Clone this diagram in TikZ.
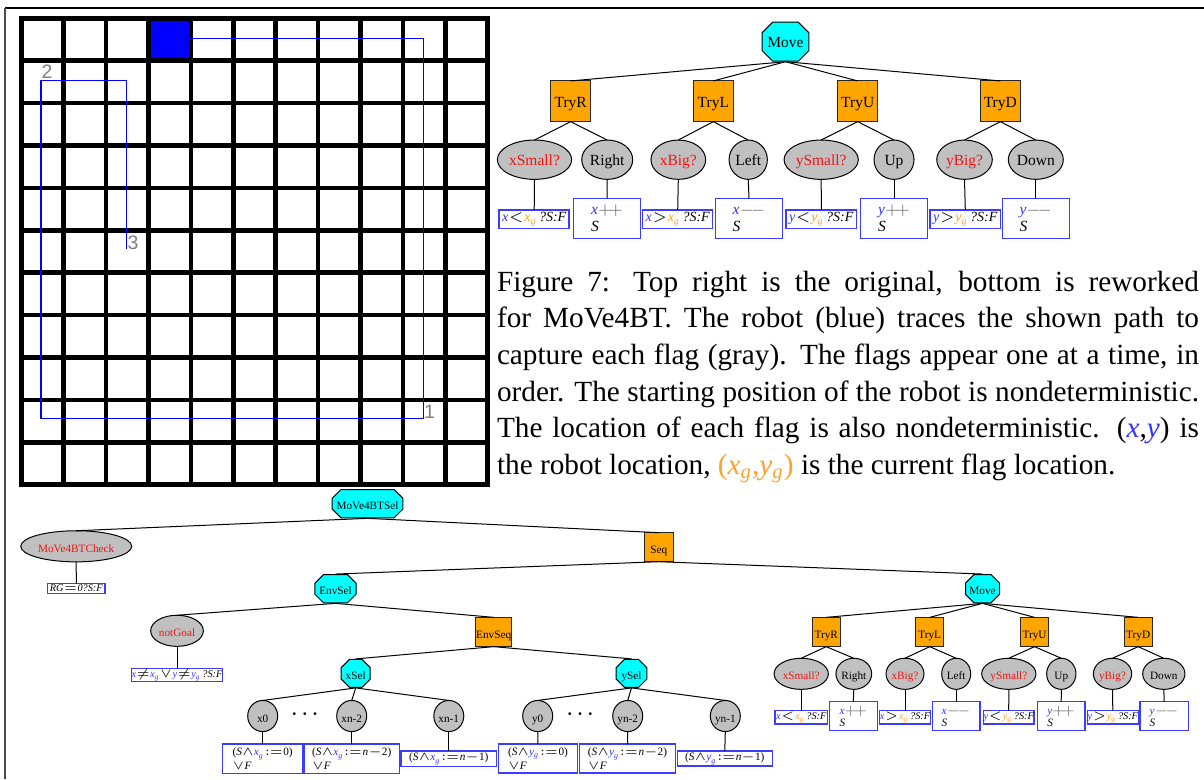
\documentclass[tikz,border=0pt]{standalone}
\usepackage{fontspec}
\setmainfont{Liberation Serif}
\newfontfamily\labelsans{Liberation Sans}
\usepackage{amsmath}
\usetikzlibrary{shapes.geometric}
\definecolor{octcyan}{RGB}{0,255,255}
\definecolor{seqorange}{RGB}{255,165,0}
\definecolor{ellgray}{RGB}{192,192,192}
\definecolor{vblue}{RGB}{50,50,255}
\definecolor{vorange}{RGB}{255,160,40}
\definecolor{boxblue}{RGB}{60,60,255}
\definecolor{opgray}{RGB}{110,110,110}
\definecolor{condred}{RGB}{240,20,20}
\definecolor{flaggray}{RGB}{128,128,128}
\newcommand\rX{\textcolor{vblue}{\textit{x}}}
\newcommand\rY{\textcolor{vblue}{\textit{y}}}
\newcommand\fX{\textcolor{vorange}{\textit{x}\textsubscript{\textit{g}}}}
\newcommand\fY{\textcolor{vorange}{\textit{y}\textsubscript{\textit{g}}}}
\newcommand\bX{\textcolor{vblue}{\textit{x}\textsubscript{\textit{g}}}}
\newcommand\bY{\textcolor{vblue}{\textit{y}\textsubscript{\textit{g}}}}
\newcommand\qSF{\textit{?S:F}}
\newcommand\incr{\textcolor{opgray}{$+\!+$}}
\newcommand\decr{\textcolor{opgray}{$-\!-$}}
\newcommand\rel[1]{\kern0.06em$#1$\kern0.06em}
\tikzset{
  every node/.style={inner sep=0pt, outer sep=0pt},
  tt/.style={font=\fontsize{6.2}{6.4}\selectfont, text height=0.68em, text depth=0.2em},
  bt/.style={font=\fontsize{4.5}{4.4}\selectfont, text height=0.68em, text depth=0.2em},
  ta/.style={font=\fontsize{6.2}{6.5}\selectfont},
  ba/.style={font=\fontsize{4.5}{4.6}\selectfont},
  tf/.style={font=\fontsize{5.6}{6.4}\selectfont},
  bf/.style={font=\fontsize{4.1}{4.4}\selectfont},
  sz/.style 2 args={minimum width=#1*0.4pt, minimum height=#2*0.4pt},
  octa/.style={rectangle, path picture={
    \draw[fill=octcyan, draw=black, line width=0.4pt]
      ([xshift=#1, yshift=-0.2pt]path picture bounding box.north west) --
      ([xshift=-#1, yshift=-0.2pt]path picture bounding box.north east) --
      ([xshift=-0.2pt, yshift=-#1]path picture bounding box.north east) --
      ([xshift=-0.2pt, yshift=#1]path picture bounding box.south east) --
      ([xshift=-#1, yshift=0.2pt]path picture bounding box.south east) --
      ([xshift=#1, yshift=0.2pt]path picture bounding box.south west) --
      ([xshift=0.2pt, yshift=#1]path picture bounding box.south west) --
      ([xshift=0.2pt, yshift=-#1]path picture bounding box.north west) -- cycle;}},
  seqbox/.style={rectangle, draw=black!85, fill=seqorange, line width=0.4pt},
  condnode/.style={ellipse, draw=black, fill=ellgray, text=condred, line width=0.4pt},
  actnode/.style={ellipse, draw=black, fill=ellgray, line width=0.4pt},
  fbox/.style={rectangle, draw=boxblue, fill=white, line width=0.6pt},
  abox/.style={fbox, align=left},
  link/.style={draw=black, line width=0.4pt},
  gridline/.style={line width=1.8pt, line cap=rect},
  flagnum/.style={anchor=base west, text=flaggray, font=\labelsans\fontsize{7.8}{8}\selectfont}
}
\begin{document}
\begin{tikzpicture}[x=0.4pt, y=-0.4pt]
\useasboundingbox (0,0) rectangle (1204,779);
% frame
\draw[line width=0.55pt] (5,8) -- (1204,8);
\draw[line width=0.75pt, black!70] (5,8) -- (5,779);
% grid
\fill[blue] (148.5,18.3) rectangle (190.9,60.7);
\foreach \i in {0,...,11} {
  \draw[gridline] ({21.3+42.4*\i},18.3) -- ({21.3+42.4*\i},484.7);
  \draw[gridline] (21.3,{18.3+42.4*\i}) -- (487.7,{18.3+42.4*\i});
}
\draw[blue, line width=0.6pt] (189.3,38.3) -- (423.3,38.3) -- (423.3,418.3) -- (41,418.3) -- (41,80.3) -- (126.7,80.3) -- (126.7,249.3);
\node[flagnum] (f1) at (424,418) {1};
\node[flagnum] (f2) at (41.5,79) {2};
\node[flagnum] (f3) at (127.5,249) {3};
% caption
\node[anchor=north west, text width=280.8pt, align=justify, font=\fontsize{11.7}{14.64}\selectfont] (cap) at (497,271)
{Figure 7: Top right is the original, bottom is reworked\linebreak
for MoVe4BT. The robot (blue) traces the shown path to\linebreak
capture each flag (gray). The flags appear one at a time, in\linebreak
order. The starting position of the robot is nondeterministic.\linebreak
The location of each flag is also nondeterministic. (\rX,\rY) is\linebreak
the robot location, \textcolor{vorange}{(\textit{x}\textsubscript{\textit{g}},\textit{y}\textsubscript{\textit{g}})} is the current flag location.};
% ---------- top tree ----------
\node[octa=4.4pt, sz={47.6}{40}, tt] (mv) at (785.5,41.7) {Move};
\node[seqbox, sz={40}{40.7}, tt] (tr) at (570.7,101.3) {TryR};
\node[seqbox, sz={40}{40.7}, tt] (tl) at (713.3,101.3) {TryL};
\node[seqbox, sz={40}{40.7}, tt] (tu) at (857.7,101.3) {TryU};
\node[seqbox, sz={40}{40.7}, tt] (td) at (1000.3,101.3) {TryD};
\node[condnode, sz={74.3}{39.3}, tt] (xs) at (534.5,159.7) {xSmall?};
\node[actnode, sz={51}{39.3}, tt] (rt) at (607.2,159.7) {Right};
\node[condnode, sz={54.7}{39.3}, tt] (xb) at (678.3,159.7) {xBig?};
\node[actnode, sz={38.3}{39.3}, tt] (lf) at (748.2,159.7) {Left};
\node[condnode, sz={74.3}{39.3}, tt] (ys) at (821.2,159.7) {ySmall?};
\node[actnode, sz={40}{39.3}, tt] (up) at (894,159.7) {Up};
\node[condnode, sz={55.6}{39.3}, tt] (yb) at (964.5,159.7) {yBig?};
\node[actnode, sz={55}{39.3}, tt] (dn) at (1035.8,159.7) {Down};
\node[fbox, sz={70}{18.3}, tf] (cxs) at (534.2,219.2) {\rX\rel{<}\fX\,\qSF};
\node[abox, sz={67.3}{40}, ta] (art) at (607,218.3) {\rX\incr\\\textit{S}};
\node[fbox, sz={70}{18.3}, tf] (cxb) at (677.7,219.2) {\rX\rel{>}\fX\,\qSF};
\node[abox, sz={66.7}{40}, ta] (alf) at (749,218.3) {\rX\decr\\\textit{S}};
\node[fbox, sz={70.7}{18.3}, tf] (cys) at (821.3,219.2) {\rY\rel{<}\fY\,\qSF};
\node[abox, sz={66.7}{40}, ta] (aup) at (894,218.3) {\rY\incr\\\textit{S}};
\node[fbox, sz={70.7}{18.3}, tf] (cyb) at (965.3,219.2) {\rY\rel{>}\fY\,\qSF};
\node[abox, sz={67}{40}, ta] (adn) at (1035.8,218.3) {\rY\decr\\\textit{S}};
\foreach \a/\b in {mv/tr, mv/tl, mv/tu, mv/td, tr/xs, tr/rt, tl/xb, tl/lf, tu/ys, tu/up, td/yb, td/dn,
  xs/cxs, rt/art, xb/cxb, lf/alf, ys/cys, up/aup, yb/cyb, dn/adn}
  \draw[link] (\a.south) -- (\b.north);
% ---------- bottom tree ----------
\node[octa=3.7pt, sz={71.7}{29.3}, bt] (sel) at (367.5,503.7) {MoVe4BTSel};
\node[condnode, sz={111}{30.7}, bt] (chk) at (76.2,546.3) {MoVe4BTCheck};
\node[fbox, sz={57.3}{10}, bf] (rg) at (76.3,588.3) {\textit{RG}\rel{=}\textit{0?S:F}};
\node[seqbox, sz={29}{29}, bt] (seq) at (658.8,547.2) {Seq};
\node[octa=3.7pt, sz={42.3}{29.3}, bt] (esel) at (335.5,588.7) {EnvSel};
\node[octa=3.6pt, sz={35}{29.3}, bt] (mv2) at (982.5,588.7) {Move};
\node[condnode, sz={52.7}{28.3}, bt] (ng) at (177,630.8) {notGoal};
\node[fbox, sz={87.3}{13.3}, bf] (ngb) at (177,675) {\rX\rel{\neq}\bX\rel{\vee}\rY\rel{\neq}\bY\,\qSF};
\node[seqbox, sz={36}{29.3}, bt] (eseq) at (493.7,632) {EnvSeq};
\node[octa=3.5pt, sz={30}{29}, bt] (xsel) at (355.7,673.4) {xSel};
\node[octa=3.5pt, sz={31.6}{29}, bt] (ysel) at (631.5,673.4) {ySel};
\node[actnode, sz={30}{30}, bt] (x0) at (262.7,716) {x0};
\node[actnode, sz={30}{30}, bt] (xn2) at (351.7,716) {xn-2};
\node[actnode, sz={30}{30}, bt] (xn1) at (448.8,716) {xn-1};
\node[actnode, sz={30}{30}, bt] (y0) at (537.7,716) {y0};
\node[actnode, sz={30}{30}, bt] (yn2) at (627.7,716) {yn-2};
\node[actnode, sz={30}{30}, bt] (yn1) at (725.3,716) {yn-1};
\node[font=\fontsize{7}{7}\selectfont\boldmath] (dotx) at (306.7,714) {$\cdots$};
\node[font=\fontsize{7}{7}\selectfont\boldmath] (doty) at (582,714) {$\cdots$};
\node[abox, sz={80}{29.3}, ba] (bx0) at (262.7,758.7) {(\textit{S}$\wedge$\bX\rel{:=}0)\\$\vee$\textit{F}};
\node[abox, sz={95.3}{29.3}, ba] (bxn2) at (351.7,758.7) {(\textit{S}$\wedge$\bX\rel{:=}\textit{n}$-$2)\\$\vee$\textit{F}};
\node[fbox, sz={95.7}{15.7}, ba] (bxn1) at (448.8,758.8) {(\textit{S}$\wedge$\bX\rel{:=}\textit{n}$-$1)};
\node[abox, sz={79.4}{28.7}, ba] (by0) at (538,758.4) {(\textit{S}$\wedge$\bY\rel{:=}0)\\$\vee$\textit{F}};
\node[abox, sz={96.4}{28.7}, ba] (byn2) at (627.5,758.4) {(\textit{S}$\wedge$\bY\rel{:=}\textit{n}$-$2)\\$\vee$\textit{F}};
\node[fbox, sz={95}{15}, ba] (byn1) at (724.8,758.5) {(\textit{S}$\wedge$\bY\rel{:=}\textit{n}$-$1)};
% bottom Move subtree
\node[seqbox, sz={27.7}{29.3}, bt] (tr2) at (826.2,632) {TryR};
\node[seqbox, sz={27.7}{29.3}, bt] (tl2) at (929.7,632) {TryL};
\node[seqbox, sz={27.7}{29.3}, bt] (tu2) at (1034.5,632) {TryU};
\node[seqbox, sz={27.7}{29.3}, bt] (td2) at (1138.2,632) {TryD};
\node[condnode, sz={54.3}{29}, bt] (xs2) at (801.2,673.8) {xSmall?};
\node[actnode, sz={35.7}{29}, bt] (rt2) at (853.8,673.8) {Right};
\node[condnode, sz={38}{29}, bt] (xb2) at (905,673.8) {xBig?};
\node[actnode, sz={29}{29}, bt] (lf2) at (956.2,673.8) {Left};
\node[condnode, sz={54.3}{29}, bt] (ys2) at (1008.8,673.8) {ySmall?};
\node[actnode, sz={29.3}{29}, bt] (up2) at (1061.3,673.8) {Up};
\node[condnode, sz={38.3}{29}, bt] (yb2) at (1112.5,673.8) {yBig?};
\node[actnode, sz={42.3}{29}, bt] (dn2) at (1163.8,673.8) {Down};
\node[fbox, sz={52.3}{13.3}, bf] (cxs2) at (801.2,717.3) {\rX\rel{<}\fX\,\qSF};
\node[abox, sz={48}{29}, ba] (art2) at (853.3,716.2) {\rX\incr\\\textit{S}};
\node[fbox, sz={51.3}{13.3}, bf] (cxb2) at (905,717.3) {\rX\rel{>}\fX\,\qSF};
\node[abox, sz={47.7}{29}, ba] (alf2) at (956.2,716.2) {\rX\decr\\\textit{S}};
\node[fbox, sz={50.7}{13.3}, bf] (cys2) at (1008.7,717.3) {\rY\rel{<}\fY\,\qSF};
\node[abox, sz={47.7}{29}, ba] (aup2) at (1061.2,716.2) {\rY\incr\\\textit{S}};
\node[fbox, sz={51}{13.3}, bf] (cyb2) at (1112.8,717.3) {\rY\rel{>}\fY\,\qSF};
\node[abox, sz={48.3}{29}, ba] (adn2) at (1164.2,716.2) {\rY\decr\\\textit{S}};
\foreach \a/\b in {sel/chk, sel/seq, chk/rg, seq/esel, seq/mv2, esel/ng, esel/eseq, ng/ngb,
  eseq/xsel, eseq/ysel, xsel/x0, xsel/xn2, xsel/xn1, ysel/y0, ysel/yn2, ysel/yn1,
  x0/bx0, xn2/bxn2, xn1/bxn1, y0/by0, yn2/byn2, yn1/byn1,
  mv2/tr2, mv2/tl2, mv2/tu2, mv2/td2, tr2/xs2, tr2/rt2, tl2/xb2, tl2/lf2, tu2/ys2, tu2/up2, td2/yb2, td2/dn2,
  xs2/cxs2, rt2/art2, xb2/cxb2, lf2/alf2, ys2/cys2, up2/aup2, yb2/cyb2, dn2/adn2}
  \draw[link] (\a.south) -- (\b.north);
\end{tikzpicture}
\end{document}
